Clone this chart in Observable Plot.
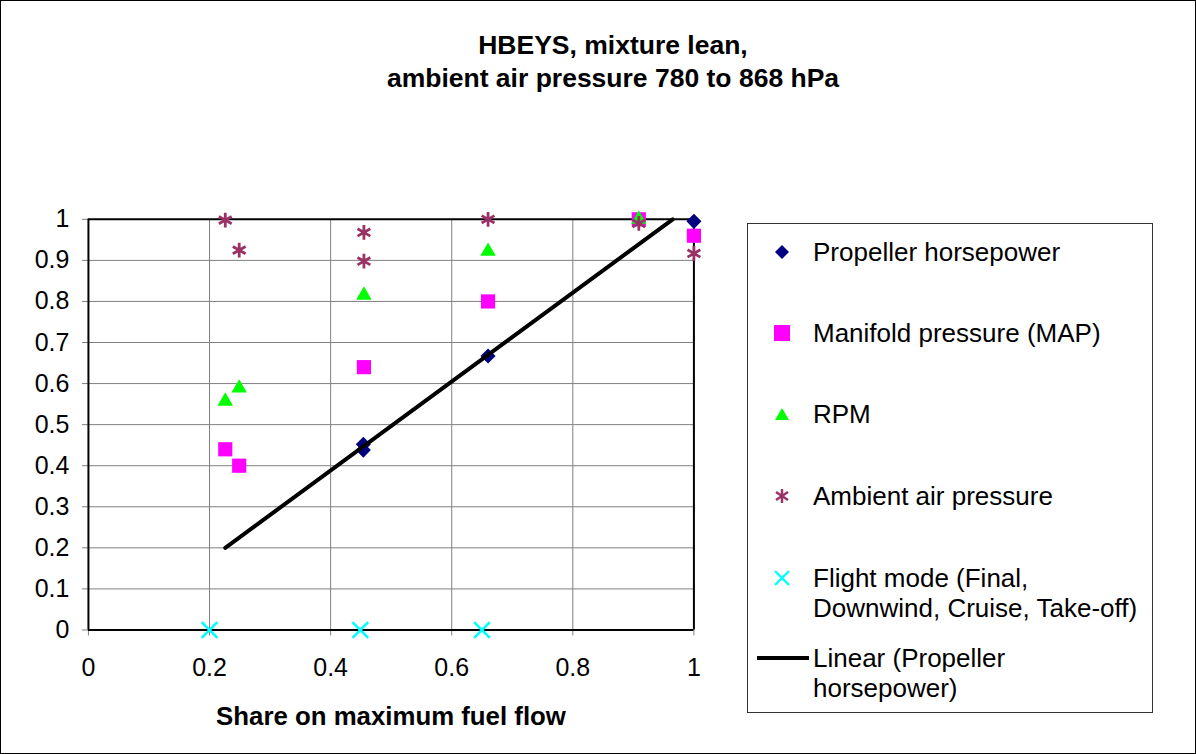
<!DOCTYPE html>
<html>
<head>
<meta charset="utf-8">
<script src="https://cdn.jsdelivr.net/npm/d3@7"></script>
<script src="https://cdn.jsdelivr.net/npm/@observablehq/plot@0.6"></script>
<style>
  html, body { margin: 0; padding: 0; background: #fff; }
  #wrap { position: relative; width: 1196px; height: 754px; box-sizing: border-box; border: 1px solid #000; overflow: hidden; font-family: "Liberation Sans", Arial, sans-serif; }
  #chart { position: absolute; left: -1px; top: -1px; }
  #title { position: absolute; left: 0; width: 1224px; top: 28px; text-align: center; font-weight: bold; font-size: 26.5px; line-height: 33px; color: #000; }
  #xtitle { position: absolute; left: 87px; width: 606px; top: 700px; text-align: center; font-weight: bold; font-size: 25.8px; line-height: 30px; color: #000; }
  #legend { position: absolute; left: 746px; top: 222px; width: 406px; height: 490px; box-sizing: border-box; border: 1px solid #333; font-size: 26px; color: #000; }
  .item { position: absolute; left: 0; }
  .item svg { position: absolute; }
  .item .lab { position: absolute; left: 65px; white-space: nowrap; line-height: 30px; }
</style>
</head>
<body>
<div id="wrap">
  <div id="chart"></div>
  <div id="title">HBEYS, mixture lean,<br>ambient air pressure 780 to 868 hPa</div>
  <div id="xtitle">Share on maximum fuel flow</div>
  <div id="legend"></div>
</div>
<script>
// ---- data ----
const propX = [0.454, 0.454, 0.66, 1.0];
const propY = [0.452, 0.438, 0.667, 0.995];
const mapX = [0.226, 0.249, 0.455, 0.66, 0.909, 1.0];
const mapY = [0.44, 0.40, 0.64, 0.80, 1.0, 0.96];
const rpmX = [0.226, 0.249, 0.455, 0.66, 0.909];
const rpmY = [0.557, 0.589, 0.815, 0.922, 1.0];
const ambX = [0.226, 0.249, 0.455, 0.455, 0.66, 0.909, 1.0];
const ambY = [0.998, 0.925, 0.968, 0.898, 1.0, 0.99, 0.917];
const modeX = [0.2, 0.449, 0.65];
const modeY = [0, 0, 0];
const trendX = [0.226, 0.965];
const trendY = [0.2, 1.0];
const xTicks = [0, 0.2, 0.4, 0.6, 0.8, 1];
const yTicks = [0, 0.1, 0.2, 0.3, 0.4, 0.5, 0.6, 0.7, 0.8, 0.9, 1];
const xGrid = [0.2, 0.4, 0.6, 0.8];
const yGrid = [0.1, 0.2, 0.3, 0.4, 0.5, 0.6, 0.7, 0.8, 0.9];
const seriesNames = ["Propeller horsepower", "Manifold pressure (MAP)", "RPM", "Ambient air pressure", "Flight mode (Final,\nDownwind, Cruise, Take-off)", "Linear (Propeller\nhorsepower)"];

const pts = (xs, ys) => xs.map((x, i) => ({x, y: ys[i]}));

const plot = Plot.plot({
  width: 1196,
  height: 754,
  marginLeft: 88,
  marginRight: 502,
  marginTop: 219,
  marginBottom: 124,
  style: {fontFamily: "'Liberation Sans', Arial, sans-serif", fontSize: "26px", color: "#000", background: "transparent"},
  x: {domain: [0, 1]},
  y: {domain: [0, 1]},
  marks: [
    Plot.gridX(xGrid, {stroke: "#808080", strokeOpacity: 1}),
    Plot.gridY(yGrid, {stroke: "#808080", strokeOpacity: 1}),
    Plot.axisX(xTicks, {tickSize: 6, tickPadding: 22, stroke: "#808080", label: null, tickFormat: d => String(d), fontSize: 25}),
    Plot.axisY(yTicks, {tickSize: 6, tickPadding: 13, stroke: "#808080", label: null, tickFormat: d => String(d), fontSize: 25}),
    Plot.ruleY([1], {stroke: "#000", strokeWidth: 2}),
    Plot.ruleX([1], {stroke: "#000", strokeWidth: 2}),
    Plot.ruleY([0], {stroke: "#000", strokeWidth: 2}),
    Plot.ruleX([0], {stroke: "#000", strokeWidth: 2}),
    Plot.dot(pts(propX, propY), {x: "x", y: "y", symbol: "diamond2", fill: "#000080", r: 6.8}),
    Plot.dot(pts(mapX, mapY), {x: "x", y: "y", symbol: "square", fill: "#FF00FF", r: 8}),
    Plot.dot(pts(rpmX, rpmY), {x: "x", y: "y", symbol: "triangle2", fill: "#00FF00", r: 7.4}),
    Plot.dot(pts(ambX, ambY), {x: "x", y: "y", symbol: "asterisk", stroke: "#993366", strokeWidth: 2.8, r: 7}),
    Plot.dot(pts(modeX, modeY), {x: "x", y: "y", symbol: "times", stroke: "#00FFFF", strokeWidth: 2.6, r: 7.2}),
    Plot.line(pts(trendX, trendY), {x: "x", y: "y", stroke: "#000", strokeWidth: 4})
  ]
});
document.getElementById("chart").appendChild(plot);

// ---- legend ----
const legend = document.getElementById("legend");
const rowsY = [13, 94, 175, 257, 339, 419];
const sym = [
  '<svg width="20" height="20" style="left:24px;top:5px"><path d="M10 3 L17 10 L10 17 L3 10 Z" fill="#000080"/></svg>',
  '<svg width="20" height="20" style="left:24px;top:5px"><rect x="2" y="2" width="16" height="16" fill="#FF00FF"/></svg>',
  '<svg width="20" height="20" style="left:24px;top:5px"><path d="M10 4 L17 16 L3 16 Z" fill="#00FF00"/></svg>',
  '<svg width="20" height="20" style="left:24px;top:5px"><g stroke="#993366" stroke-width="2.4"><line x1="10" y1="3" x2="10" y2="17"/><line x1="4" y1="6" x2="16" y2="14"/><line x1="16" y1="6" x2="4" y2="14"/></g></svg>',
  '<svg width="20" height="20" style="left:24px;top:5px"><g stroke="#00FFFF" stroke-width="2.4"><line x1="3" y1="3" x2="17" y2="17"/><line x1="17" y1="3" x2="3" y2="17"/></g></svg>',
  '<svg width="60" height="20" style="left:6px;top:5px"><line x1="3" y1="10" x2="55" y2="10" stroke="#000" stroke-width="4"/></svg>'
];
seriesNames.forEach((name, i) => {
  const d = document.createElement("div");
  d.className = "item";
  d.style.top = rowsY[i] + "px";
  d.innerHTML = sym[i] + '<div class="lab">' + name.replace("\n", "<br>") + '</div>';
  legend.appendChild(d);
});
</script>
</body>
</html>
